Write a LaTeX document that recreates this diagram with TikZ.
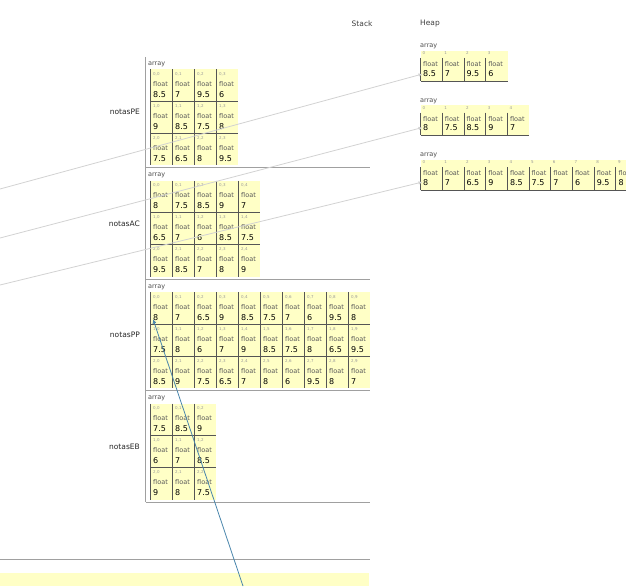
\documentclass[tikz,border=0pt]{standalone}
\usepackage{fontspec}
\setmainfont{DejaVu Sans}
\usetikzlibrary{positioning,arrows.meta}

\definecolor{cellyellow}{HTML}{FFFFC6}
\definecolor{framegray}{HTML}{A0A0A0}
\definecolor{gridgray}{HTML}{555555}
\definecolor{refgray}{HTML}{D2D2D2}
\definecolor{refblue}{HTML}{4A86AC}

\tikzset{
  cellbox/.style={fill=cellyellow, draw=none, inner sep=0pt, anchor=north west},
  idxtxt/.style={font=\fontsize{4}{4}\selectfont, text=black!40, inner sep=0pt, anchor=base west},
  typtxt/.style={font=\fontsize{6.5}{6.5}\selectfont, text=black!65, inner sep=0pt, anchor=base west},
  valtxt/.style={font=\fontsize{8}{8}\selectfont, text=black, inner sep=0pt, anchor=base west},
  arrtxt/.style={font=\fontsize{6.5}{6.5}\selectfont, text=black!70, inner sep=0pt, anchor=west},
  varlabel/.style={font=\fontsize{7.5}{7.5}\selectfont, text=black!85, inner sep=0pt, anchor=east},
  headlabel/.style={font=\fontsize{7.5}{7.5}\selectfont, text=black!75, inner sep=0pt, anchor=west},
  gridline/.style={gridgray, line width=0.8pt},
  frameline/.style={framegray, line width=0.8pt},
  refline/.style={refgray, line width=0.8pt, -{Latex[length=4pt,width=3.5pt]}},
  ptrline/.style={refblue, line width=0.8pt, -{Latex[length=4.5pt,width=4pt]}}
}

% one cell of a 2D array: name, x, y, index, value
\newcommand{\gcell}[5]{%
  \node[cellbox, minimum width=22pt, minimum height=32pt] (#1) at (#2,#3) {};
  \node[idxtxt] at ([shift={(3,6)}]#1.north west) {#4};
  \node[typtxt] at ([shift={(3,17)}]#1.north west) {float};
  \node[valtxt] at ([shift={(3,28)}]#1.north west) {#5};
  \draw[gridline] (#1.north west) -- (#1.south west);
}
% one cell of a 1D heap array: name, x, y, index, value
\newcommand{\hcell}[5]{%
  \node[cellbox, minimum width=21.7pt, minimum height=30pt] (#1) at (#2,#3) {};
  \node[idxtxt] at ([shift={(2,4)}]#1.north west) {#4};
  \node[typtxt] at ([shift={(2.5,16)}]#1.north west) {float};
  \node[valtxt] at ([shift={(2.5,25.5)}]#1.north west) {#5};
  \draw[gridline] ([shift={(0,7.5)}]#1.north west) -- (#1.south west);
}

\begin{document}
\begin{tikzpicture}[x=1pt,y=-1pt]
\useasboundingbox (0,0) rectangle (626,586);

% headers
\node[headlabel] (stackhd) at (351.5,24) {Stack};
\node[headlabel] (heaphd) at (420,24) {Heap};

% stack frames
\draw[frameline] (145.5,57) -- (145.5,502);
\foreach \y in {167.5,279,390.5,502}
  \draw[frameline] (145.5,\y) -- (370,\y);

% variable names
\node[varlabel] (lblPE) at (140,112) {notasPE};
\node[varlabel] (lblAC) at (140,223.5) {notasAC};
\node[varlabel] (lblPP) at (140,335) {notasPP};
\node[varlabel] (lblEB) at (140,446.5) {notasEB};
\foreach \y in {64,175.5,287,398.5}
  \node[arrtxt] at (148,\y) {array};

% notasPE
\foreach \r/\vals in {0/{8.5,7,9.5,6},1/{9,8.5,7.5,8},2/{7.5,6.5,8,9.5}}
  \foreach \v [count=\c from 0] in \vals {
    \gcell{pe-\r-\c}{150+22*\c}{69+32*\r}{\r,\c}{\v}
    \ifnum\r>0 \draw[gridline] (pe-\r-\c.north west) -- (pe-\r-\c.north east); \fi
  }
% notasAC
\foreach \r/\vals in {0/{8,7.5,8.5,9,7},1/{6.5,7,6,8.5,7.5},2/{9.5,8.5,7,8,9}}
  \foreach \v [count=\c from 0] in \vals {
    \gcell{ac-\r-\c}{150+22*\c}{180.5+32*\r}{\r,\c}{\v}
    \ifnum\r>0 \draw[gridline] (ac-\r-\c.north west) -- (ac-\r-\c.north east); \fi
  }
% notasPP
\foreach \r/\vals in {0/{8,7,6.5,9,8.5,7.5,7,6,9.5,8},1/{7.5,8,6,7,9,8.5,7.5,8,6.5,9.5},2/{8.5,9,7.5,6.5,7,8,6,9.5,8,7}}
  \foreach \v [count=\c from 0] in \vals {
    \gcell{pp-\r-\c}{150+22*\c}{292+32*\r}{\r,\c}{\v}
    \ifnum\r>0 \draw[gridline] (pp-\r-\c.north west) -- (pp-\r-\c.north east); \fi
  }
% notasEB
\foreach \r/\vals in {0/{7.5,8.5,9},1/{6,7,8.5},2/{9,8,7.5}}
  \foreach \v [count=\c from 0] in \vals {
    \gcell{eb-\r-\c}{150+22*\c}{403.5+32*\r}{\r,\c}{\v}
    \ifnum\r>0 \draw[gridline] (eb-\r-\c.north west) -- (eb-\r-\c.north east); \fi
  }

% heap arrays
\node[arrtxt] at (420,46.5) {array};
\foreach \v [count=\c from 0] in {8.5,7,9.5,6}
  \hcell{hpe-\c}{420.5+21.7*\c}{50.5}{\c}{\v};
\draw[gridline] (hpe-0.south west) -- (hpe-3.south east);

\node[arrtxt] at (420,101) {array};
\foreach \v [count=\c from 0] in {8,7.5,8.5,9,7}
  \hcell{hac-\c}{420.5+21.7*\c}{105}{\c}{\v};
\draw[gridline] (hac-0.south west) -- (hac-4.south east);

\node[arrtxt] at (420,155.5) {array};
\foreach \v [count=\c from 0] in {8,7,6.5,9,8.5,7.5,7,6,9.5,8}
  \hcell{hpp-\c}{420.5+21.7*\c}{159.5}{\c}{\v};
\draw[gridline] (hpp-0.south west) -- (hpp-9.south east);

% references
\coordinate (srcPE) at (0,189);
\coordinate (srcAC) at (0,238);
\coordinate (srcPP) at (0,285);
\draw[refline] (srcPE) -- ([shift={(2,23.5)}]hpe-0.north west);
\draw[refline] (srcAC) -- ([shift={(2,22.5)}]hac-0.north west);
\draw[refline] (srcPP) -- ([shift={(2,22.5)}]hpp-0.north west);

% lower frame
\draw[frameline] (0,559) -- (370,559);
\fill[cellyellow] (0,573) rectangle (369,586);

\coordinate (srcptr) at (243,586);
\draw[ptrline] (srcptr) -- ([shift={(3,27)}]pp-0-0.north west);
\end{tikzpicture}
\end{document}
